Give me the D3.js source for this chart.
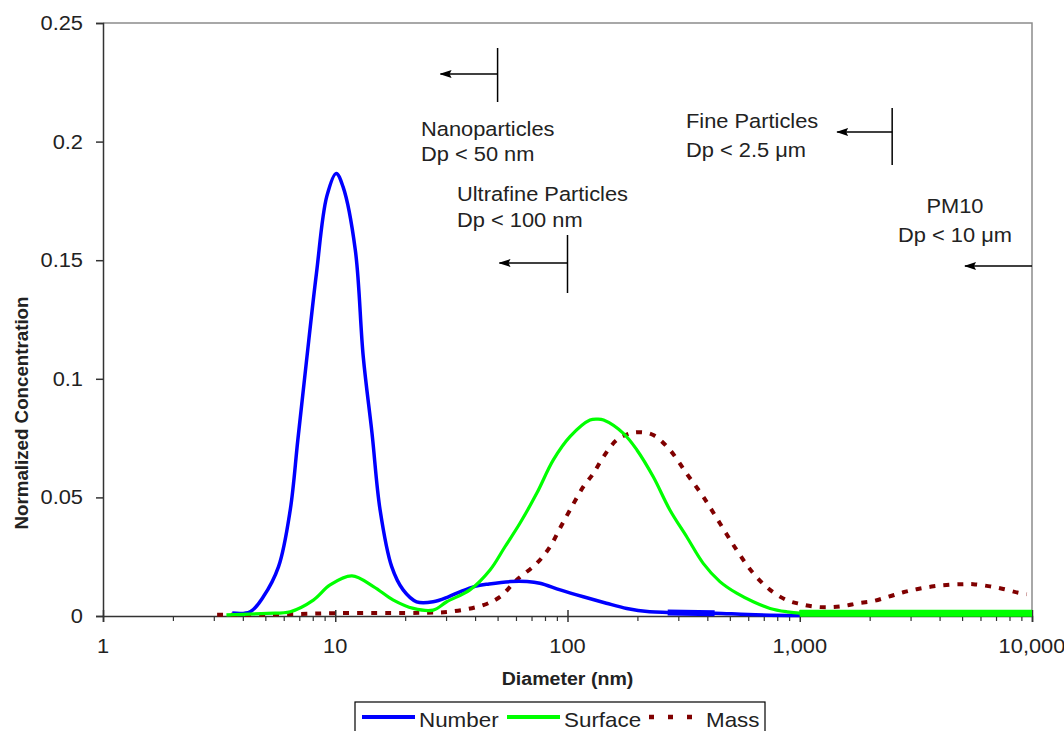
<!DOCTYPE html>
<html>
<head>
<meta charset="utf-8">
<script src="https://cdn.jsdelivr.net/npm/d3@7"></script>
<style>
  body { margin: 0; background: #fff; }
  svg { display: block; font-family: "Liberation Sans", Arial, sans-serif; }
</style>
</head>
<body>
<div id="chart"></div>
<script>
// Podatki, odčitani s slike (premer v nm, normalizirana koncentracija)
const numberDiam = [3.6, 4.3, 4.9, 5.7, 6.4, 6.9, 7.5, 8.3, 9.2, 10.1, 10.8, 12.2, 13.2, 14.4, 15.6, 17.5, 19.6, 22.4, 26.4, 30.7, 34.4, 40, 46, 57, 67, 76, 93, 117, 147, 180, 226, 270, 430, 600, 1000];
const numberConc = [0.0013, 0.0018, 0.0081, 0.0208, 0.0447, 0.0742, 0.1065, 0.1445, 0.177, 0.1866, 0.181, 0.1543, 0.1093, 0.077, 0.0447, 0.0208, 0.011, 0.006, 0.006, 0.0081, 0.0102, 0.0125, 0.0135, 0.0145, 0.0145, 0.0138, 0.011, 0.0081, 0.0054, 0.0032, 0.0018, 0.0015, 0.0012, 0.0006, 0.0002];

const surfaceDiam = [3.4, 5.1, 6.4, 8.05, 9.5, 11.8, 14.6, 17.8, 21.7, 26.4, 30.2, 38, 46.4, 53.8, 62.4, 73.7, 86.9, 102.5, 125, 135, 143, 174, 199, 234, 276, 326, 384, 453, 535, 631, 745, 879, 1000, 2000, 5000, 10000];
const surfaceConc = [0.0005, 0.0011, 0.0018, 0.0067, 0.0131, 0.0169, 0.0124, 0.0067, 0.0032, 0.0025, 0.006, 0.011, 0.0194, 0.0292, 0.0391, 0.0517, 0.0658, 0.0756, 0.0826, 0.083, 0.0826, 0.077, 0.070, 0.0587, 0.0447, 0.0334, 0.0222, 0.0145, 0.0096, 0.006, 0.0032, 0.0018, 0.0012, 0.0012, 0.0012, 0.0012];

const massDiam = [3.1, 5, 8, 10, 15, 20, 25, 31.2, 43.4, 51.2, 60.4, 73.7, 84.1, 92.8, 102.5, 117, 129, 143, 163, 186, 205, 234, 276, 326, 384, 453, 535, 631, 745, 879, 1000, 1164, 1350, 1542, 1787, 2074, 2405, 2790, 3187, 3697, 4293, 4982, 5586, 6484, 7520, 8730, 9500];
const massConc = [0.0005, 0.0006, 0.001, 0.0012, 0.0013, 0.0013, 0.0014, 0.0018, 0.0046, 0.0081, 0.0152, 0.0222, 0.0292, 0.037, 0.0447, 0.0545, 0.060, 0.0672, 0.0742, 0.077, 0.0775, 0.0763, 0.070, 0.060, 0.0503, 0.0391, 0.0278, 0.018, 0.011, 0.0067, 0.0051, 0.0039, 0.0037, 0.0042, 0.0054, 0.0063, 0.0081, 0.010, 0.0113, 0.0124, 0.0131, 0.0134, 0.0134, 0.0126, 0.0114, 0.0098, 0.0092];

// odebeljeni odseki krivulj (kot na izvirni sliki)
const numberThick = [270, 430];
const surfaceThick = [1000, 10000];

const yTicks = [0, 0.05, 0.1, 0.15, 0.2, 0.25];
const yTickLabels = ["0", "0.05", "0.1", "0.15", "0.2", "0.25"];
const xTicks = [1, 10, 100, 1000, 10000];
const xTickLabels = ["1", "10", "100", "1,000", "10,000"];

// Oznake velikostnih razredov: meja (nm), besedilo
const classLimits = [50, 100, 2500, 10000];
const classNames = [
  ["Nanoparticles", "Dp < 50 nm"],
  ["Ultrafine Particles", "Dp < 100 nm"],
  ["Fine Particles", "Dp < 2.5 \u03bcm"],
  ["PM10", "Dp < 10 \u03bcm"]
];

const seriesNames = ["Number", "Surface", "Mass"];

const width = 1064, height = 731;
const plotLeft = 103, plotRight = 1032, plotTop = 23, plotBottom = 616;
const sx = 1.12; // slika je vodoravno raztegnjena

const x = d3.scaleLog().domain([1, 10000]).range([plotLeft, plotRight]);
const y = d3.scaleLinear().domain([0, 0.25]).range([plotBottom, plotTop]);

const svg = d3.select("#chart").append("svg")
  .attr("width", width)
  .attr("height", height);

function label(g, px, py, txt, anchor, size, bold) {
  return g.append("text")
    .attr("transform", `translate(${px},${py}) scale(${sx},1)`)
    .attr("text-anchor", anchor)
    .attr("font-size", size)
    .attr("font-weight", bold ? "bold" : "normal")
    .attr("fill", "#222")
    .text(txt);
}

// okvir risalne površine (zgoraj in desno siv)
svg.append("path")
  .attr("d", `M${plotLeft},${plotTop}H${plotRight}V${plotBottom}`)
  .attr("fill", "none")
  .attr("stroke", "#8c8c8c")
  .attr("stroke-width", 1.5);

// os y
const yAxis = svg.append("g")
  .attr("transform", `translate(${plotLeft},0)`)
  .call(d3.axisLeft(y).tickValues(yTicks).tickSize(7).tickFormat(""));
yAxis.selectAll("path, line").attr("stroke", "#333").attr("stroke-width", 1.5);

yTicks.forEach((v, i) => label(svg, 83, y(v) + 7, yTickLabels[i], "end", 19.5));

// os x: glavne in pomožne oznake
const minor = [];
for (let d = 1; d < 10000; d *= 10) {
  for (let k = 2; k <= 9; k++) minor.push(d * k);
}
const xMinor = svg.append("g")
  .attr("transform", `translate(0,${plotBottom})`)
  .call(d3.axisBottom(x).tickValues(minor).tickSize(5).tickFormat(""));
xMinor.select(".domain").remove();
xMinor.selectAll("line").attr("stroke", "#333").attr("stroke-width", 1.2);

const xMajor = svg.append("g")
  .attr("transform", `translate(0,${plotBottom})`)
  .call(d3.axisBottom(x).tickValues(xTicks).tickSize(6).tickFormat(""));
xMajor.selectAll("path, line").attr("stroke", "#333").attr("stroke-width", 1.5);
xMajor.selectAll(".tick line").attr("y1", -6);

xTicks.forEach((v, i) => label(svg, x(v), 653, xTickLabels[i], "middle", 19.5));

// naslovi osi
label(svg, (plotLeft + plotRight) / 2, 685, "Diameter (nm)", "middle", 17.5, true);
svg.append("text")
  .attr("transform", "translate(28,413) rotate(-90) scale(1.07,1)")
  .attr("text-anchor", "middle")
  .attr("font-size", 17.5)
  .attr("font-weight", "bold")
  .attr("fill", "#222")
  .text("Normalized Concentration");

// krivulje
const line = d3.line()
  .x(d => x(d[0]))
  .y(d => y(d[1]))
  .curve(d3.curveCatmullRom.alpha(0.5));

const numberData = d3.zip(numberDiam, numberConc);
const surfaceData = d3.zip(surfaceDiam, surfaceConc);
const massData = d3.zip(massDiam, massConc);

svg.append("path").datum(massData)
  .attr("d", line)
  .attr("fill", "none")
  .attr("stroke", "#800000")
  .attr("stroke-width", 4)
  .attr("stroke-dasharray", "6,8");

svg.append("path").datum(numberData)
  .attr("d", line)
  .attr("fill", "none")
  .attr("stroke", "#0000ff")
  .attr("stroke-width", 3.5)
  .attr("stroke-linejoin", "round");

svg.append("path").datum(numberData.filter(d => d[0] >= numberThick[0] && d[0] <= numberThick[1]))
  .attr("d", line)
  .attr("fill", "none")
  .attr("stroke", "#0000ff")
  .attr("stroke-width", 6);

svg.append("path").datum(surfaceData)
  .attr("d", line)
  .attr("fill", "none")
  .attr("stroke", "#00ff00")
  .attr("stroke-width", 3.2)
  .attr("stroke-linejoin", "round");

svg.append("path").datum(surfaceData.filter(d => d[0] >= surfaceThick[0] && d[0] <= surfaceThick[1]))
  .attr("d", line)
  .attr("fill", "none")
  .attr("stroke", "#00ff00")
  .attr("stroke-width", 7);

// puščice za velikostne razrede (konica na koncu črte)
svg.append("defs").append("marker")
  .attr("id", "arrow")
  .attr("viewBox", "0 0 12 8")
  .attr("refX", 11).attr("refY", 4)
  .attr("markerWidth", 12).attr("markerHeight", 8)
  .attr("markerUnits", "userSpaceOnUse")
  .attr("orient", "auto")
  .append("path")
  .attr("d", "M12,4L0,0L2,4L0,8Z")
  .attr("fill", "#000");

const arrows = [
  { y: 74, len: 57, bar: [48, 102] },
  { y: 263, len: 68, bar: [235, 293] },
  { y: 132, len: 55, bar: [108, 165] },
  { y: 266, len: 67, bar: null }
];
classLimits.forEach((lim, i) => {
  const a = arrows[i];
  const px = x(lim);
  if (a.bar) {
    svg.append("line")
      .attr("x1", px).attr("x2", px)
      .attr("y1", a.bar[0]).attr("y2", a.bar[1])
      .attr("stroke", "#000").attr("stroke-width", 1.5);
  }
  svg.append("line")
    .attr("x1", px).attr("x2", px - a.len)
    .attr("y1", a.y).attr("y2", a.y)
    .attr("stroke", "#000").attr("stroke-width", 1.5)
    .attr("marker-end", "url(#arrow)");
});

const notes = [
  { x: 421, y: [136, 161], anchor: "start" },
  { x: 457, y: [201, 227], anchor: "start" },
  { x: 686, y: [128, 157], anchor: "start" },
  { x: 955, y: [213, 242], anchor: "middle" }
];
classNames.forEach((lines, i) => {
  const n = notes[i];
  lines.forEach((t, j) => label(svg, n.x, n.y[j], t, n.anchor, 19.5));
});

// legenda
const lg = svg.append("g");
lg.append("rect")
  .attr("x", 355).attr("y", 702)
  .attr("width", 410).attr("height", 40)
  .attr("fill", "#fff")
  .attr("stroke", "#000").attr("stroke-width", 1.2);

const legendItems = [
  { x: 362, color: "#0000ff", width: 4, dash: null },
  { x: 507, color: "#00ff00", width: 4, dash: null },
  { x: 649, color: "#800000", width: 4.5, dash: "5,14" }
];
seriesNames.forEach((name, i) => {
  const it = legendItems[i];
  lg.append("line")
    .attr("x1", it.x).attr("x2", it.x + 53)
    .attr("y1", 717).attr("y2", 717)
    .attr("stroke", it.color)
    .attr("stroke-width", it.width)
    .attr("stroke-dasharray", it.dash);
  label(lg, it.x + 57, 727, name, "start", 20);
});
</script>
</body>
</html>
